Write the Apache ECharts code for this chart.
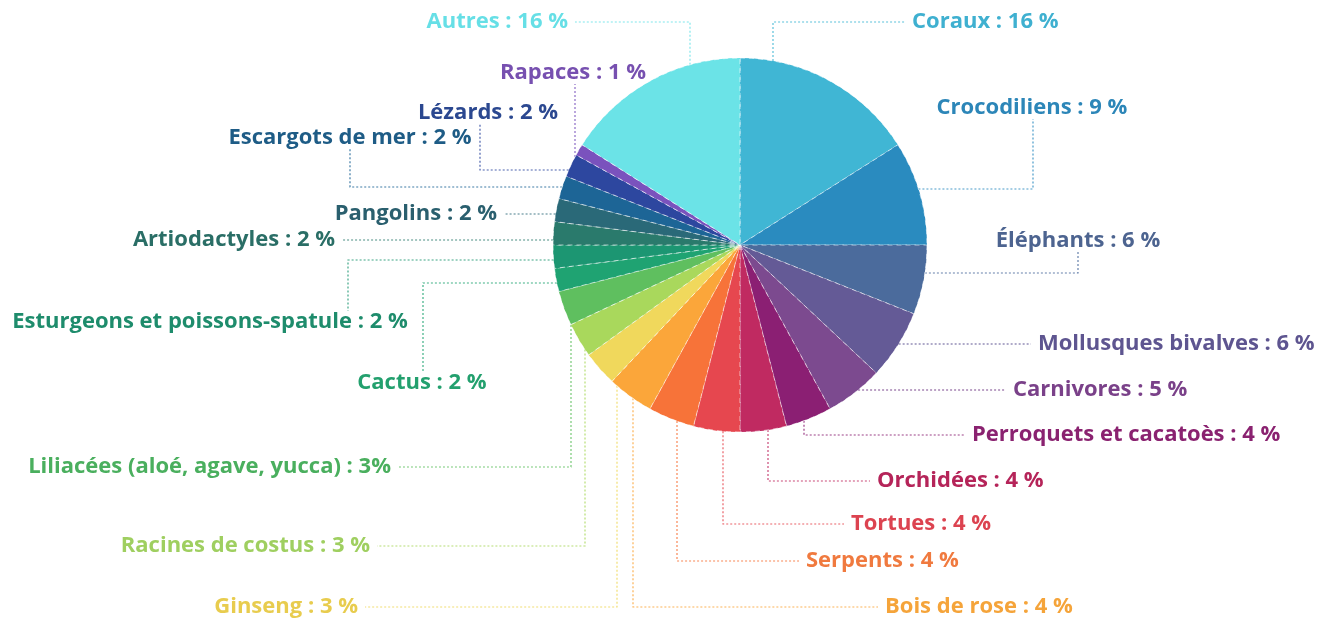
<!DOCTYPE html>
<html>
<head>
<meta charset="utf-8">
<script src="https://cdn.jsdelivr.net/npm/echarts@6.0.0/dist/echarts.min.js"></script>
<style>
  body { margin: 0; background: #fff; }
  #main { width: 1326px; height: 621px; }
</style>
</head>
<body>
<div id="main"></div>
<script>
  // categories, clockwise from 12 o'clock
  var categories = ['Coraux', 'Crocodiliens', 'Éléphants', 'Mollusques bivalves', 'Carnivores',
    'Perroquets et cacatoès', 'Orchidées', 'Tortues', 'Serpents', 'Bois de rose',
    'Ginseng', 'Racines de costus', 'Liliacées (aloé, agave, yucca)', 'Cactus',
    'Esturgeons et poissons-spatule', 'Artiodactyles', 'Pangolins', 'Escargots de mer',
    'Lézards', 'Rapaces', 'Autres'];
  var values = [16, 9, 6, 6, 5, 4, 4, 4, 4, 4, 3, 3, 3, 2, 2, 2, 2, 2, 2, 1, 16];

  var colors = ['#40b6d4', '#2a8bbf', '#4b6b9c', '#645a96', '#7c4a8f', '#8b1f73', '#c02a61',
    '#e6474f', '#f77339', '#fba63a', '#f0d85c', '#a9d85c', '#5fbf5f', '#1fa372',
    '#1c9672', '#2a7a6c', '#2a6978', '#1d6596', '#2d479f', '#7a52bd', '#6be3e7'];
  var textColors = ['#3fb0d0', '#2c86b8', '#4d6490', '#5e5590', '#7a4189', '#8a2270', '#b52459',
    '#dc4350', '#f07a3f', '#f5a43a', '#e8cc4e', '#9fcf60', '#4aaf5e', '#23a06e',
    '#1e8c6c', '#2a6e66', '#2a5f6e', '#1e5c86', '#2b4890', '#7750b0', '#66dfe6'];

  var center = [740, 245];
  var radius = 187;
  var gap = 7;

  // where each label sits and how its leader runs
  // v: vertical from the rim at x=at, then horizontal into the label
  // h: horizontal from the rim at y=at, then vertical (at x=vx) into the label
  // s: straight horizontal at the label's height
  // u: straight vertical at x=at up to the label
  var labelPlaces = [
    {x: 912, y: 22, align: 'left', kind: 'v', at: 773},
    {x: 1032, y: 108, align: 'center', kind: 'h', at: 189, vx: 1033},
    {x: 1078, y: 241, align: 'center', kind: 'h', at: 273, vx: 1078},
    {x: 1038, y: 344, align: 'left', kind: 's'},
    {x: 1013, y: 390, align: 'left', kind: 's'},
    {x: 972, y: 435, align: 'left', kind: 'v', at: 804},
    {x: 877, y: 481, align: 'left', kind: 'v', at: 768},
    {x: 851, y: 524, align: 'left', kind: 'v', at: 723},
    {x: 806, y: 561, align: 'left', kind: 'v', at: 677},
    {x: 885, y: 607, align: 'left', kind: 'v', at: 633},
    {x: 358, y: 607, align: 'right', kind: 'v', at: 617},
    {x: 370, y: 546, align: 'right', kind: 'v', at: 585},
    {x: 391, y: 467, align: 'right', kind: 'v', at: 571},
    {x: 422, y: 383, align: 'center', kind: 'h', at: 283, vx: 423},
    {x: 210, y: 322, align: 'center', kind: 'h', at: 260, vx: 348},
    {x: 335, y: 240, align: 'right', kind: 's'},
    {x: 497, y: 214, align: 'right', kind: 's'},
    {x: 350, y: 138, align: 'center', kind: 'h', at: 187, vx: 350},
    {x: 488, y: 113, align: 'center', kind: 'h', at: 170, vx: 480},
    {x: 573, y: 73, align: 'center', kind: 'u', at: 575},
    {x: 568, y: 22, align: 'right', kind: 'v', at: 690}
  ];

  function rimAtX(x, side) {
    var dx = x - center[0];
    var d = Math.sqrt(Math.max(radius * radius - dx * dx, 0));
    return [x, center[1] + side * d];
  }
  function rimAtY(y, side) {
    var dy = y - center[1];
    var d = Math.sqrt(Math.max(radius * radius - dy * dy, 0));
    return [center[0] + side * d, y];
  }

  function placeLabel(params) {
    var p = labelPlaces[params.dataIndex];
    var w = params.labelRect.width, h = params.labelRect.height;
    var left = p.align === 'left' ? p.x : (p.align === 'right' ? p.x - w : p.x - w / 2);
    var right = left + w;
    var top = p.y - h / 2 + 3, bottom = p.y + h / 2 - 3;
    var pts;
    if (p.kind === 'v') {
      var s = rimAtX(p.at, p.y < center[1] ? -1 : 1);
      var ex = p.at < left ? left - gap : right + gap;
      pts = [s, [p.at, p.y], [ex, p.y]];
    } else if (p.kind === 'h') {
      var s2 = rimAtY(p.at, p.vx > center[0] ? 1 : -1);
      var ey = p.at < p.y ? top - 3 : bottom + 3;
      pts = [s2, [p.vx, p.at], [p.vx, ey]];
    } else if (p.kind === 's') {
      var side = p.align === 'left' ? 1 : -1;
      var s3 = rimAtY(p.y, side);
      var e3 = [side > 0 ? left - gap : right + gap, p.y];
      pts = [s3, e3, e3];
    } else {
      var s4 = rimAtX(p.at, -1);
      var e4 = [p.at, bottom + 3];
      pts = [s4, e4, e4];
    }
    return {
      x: p.x,
      y: p.y,
      align: p.align,
      verticalAlign: 'middle',
      labelLinePoints: pts
    };
  }

  var pieData = [];
  for (var i = 0; i < categories.length; i++) {
    var item = {
      name: categories[i],
      value: values[i],
      itemStyle: {color: colors[i]},
      label: {color: textColors[i]},
      labelLine: {lineStyle: {color: colors[i]}}
    };
    if (categories[i].indexOf('Liliac') === 0) {
      item.label.formatter = '{b} : {c}%';
    }
    pieData.push(item);
  }

  var myChart = echarts.init(document.getElementById('main'));
  var option = {
    backgroundColor: '#fff',
    animation: false,
    series: [{
      type: 'pie',
      center: center,
      radius: radius,
      startAngle: 90,
      clockwise: true,
      avoidLabelOverlap: false,
      itemStyle: {
        borderColor: 'rgba(255,255,255,0.6)',
        borderWidth: 1,
        borderType: [5, 4]
      },
      label: {
        show: true,
        position: 'outside',
        formatter: '{b} : {c} %',
        fontFamily: 'Open Sans',
        fontWeight: 'bold',
        fontSize: 22
      },
      labelLine: {
        show: true,
        length: 10,
        length2: 10,
        lineStyle: {width: 1.2, type: [2, 2], opacity: 0.85}
      },
      labelLayout: placeLabel,
      emphasis: {scale: false},
      data: pieData
    }]
  };
  myChart.setOption(option);
</script>
</body>
</html>
